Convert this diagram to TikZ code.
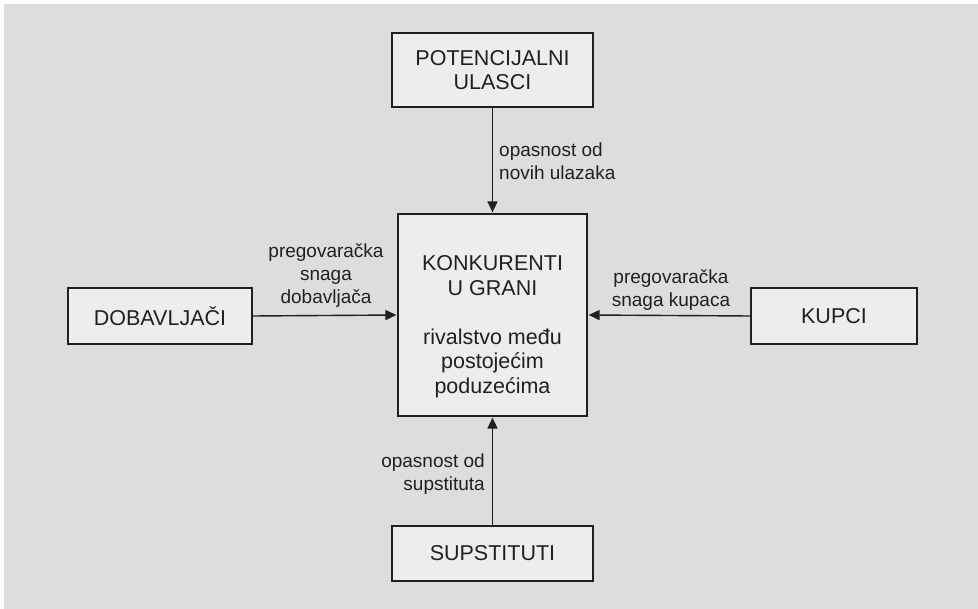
\documentclass[tikz,border=0pt]{standalone}
\usepackage{fontspec}
\setmainfont{Liberation Sans}
\usetikzlibrary{arrows.meta}
\definecolor{bg}{HTML}{DCDDDF}
\definecolor{boxfill}{HTML}{EDEDED}
\definecolor{ink}{HTML}{231F20}
\tikzset{
  forcebox/.style={draw=ink, fill=boxfill, line width=1.6pt, inner sep=0pt, align=center, text=ink,
    font=\fontsize{21.5}{24.5}\selectfont},
  forcearrow/.style={draw=ink, line width=1.4pt, -{Triangle[length=11pt,width=10pt]}, shorten >=0.8pt},
  forcelabel/.style={text=ink, inner sep=0pt, font=\fontsize{19}{23}\selectfont}
}
\begin{document}
\begin{tikzpicture}[x=1pt,y=-1pt]
\useasboundingbox (0,0) rectangle (978,609);
\fill[bg] (4,4) rectangle (978,609);
\node[forcebox, minimum width=201pt, minimum height=74pt] (top) at (492.5,70) {POTENCIJALNI\\ULASCI};
\node[forcebox, minimum width=189pt, minimum height=202pt] (mid) at (492.5,315) {};
\node[forcebox] (midtext) at (492.5,326.5) [draw=none, fill=none] {KONKURENTI\\U GRANI\\[24.5pt]rivalstvo među\\postojećim\\poduzećima};
\node[forcebox, minimum width=184pt, minimum height=56pt] (left) at (160,316) {DOBAVLJAČI};
\node[forcebox, minimum width=166pt, minimum height=56pt] (right) at (834,316) {KUPCI};
\node[forcebox, minimum width=201pt, minimum height=55pt] (bottom) at (492.5,553.5) {SUPSTITUTI};
\draw[forcearrow] (top.south) -- (mid.north);
\draw[forcearrow] (left.east) -- (mid.west);
\draw[forcearrow] (right.west) -- (mid.east);
\draw[forcearrow] (bottom.north) -- (mid.south);
\node[forcelabel, anchor=west, align=left] (ltop) at (499,161.5) {opasnost od\\novih ulazaka};
\node[forcelabel, align=center] (lleft) at (326,276) {pregovaračka\\snaga\\dobavljača};
\node[forcelabel, align=center] (lright) at (671,290) {pregovaračka\\snaga kupaca};
\node[forcelabel, anchor=east, align=right] (lbottom) at (485,474) {opasnost od\\supstituta};
\end{tikzpicture}
\end{document}
